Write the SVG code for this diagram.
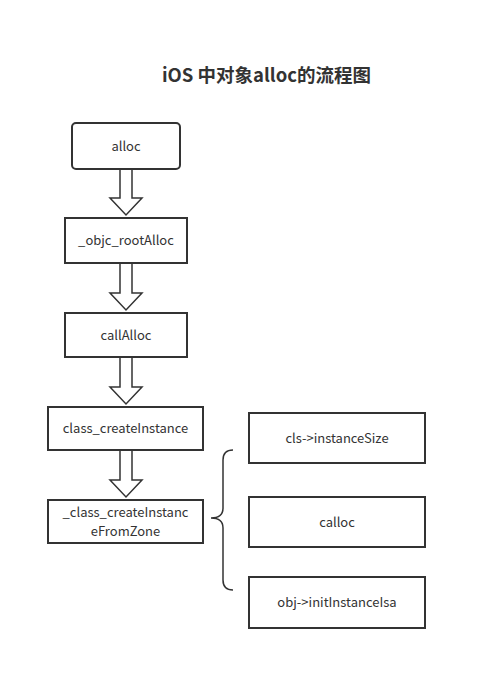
<svg xmlns="http://www.w3.org/2000/svg" width="486" height="690" viewBox="0 0 486 690">
<style>
.box{fill:#fff;stroke:#333;stroke-width:2}
.t{font-family:"Microsoft YaHei","Noto Sans CJK SC","Open Sans",sans-serif;font-size:13px;fill:#333;text-anchor:middle}
.arr{fill:#fff;stroke:#333;stroke-width:1.5;stroke-linejoin:miter}
.brace{fill:none;stroke:#333;stroke-width:1.5}
</style>
<rect width="486" height="690" fill="#fff"/>
<text x="266.5" y="82" style="font-family:'Noto Sans CJK SC','Open Sans',sans-serif;font-size:18.5px;font-weight:bold;fill:#333;text-anchor:middle">iOS 中对象alloc的流程图</text>
<g id="connectors">
<path class="arr" d="M120,169 L120,198 L110,198 L126,215 L142,198 L132,198 L132,169"/>
<path class="arr" d="M120,263 L120,293 L110,293 L126,310 L142,293 L132,293 L132,263"/>
<path class="arr" d="M120,357 L120,387 L110,387 L126,404 L142,387 L132,387 L132,357"/>
<path class="arr" d="M120,450 L120,480 L110,480 L126,497 L142,480 L132,480 L132,450"/>
<path class="brace" d="M233,450 Q223,450 223,460 L223,508 Q223,518 211,518 Q223,518 223,528 L223,580 Q223,590 233,590"/>
</g>
<g id="n-alloc"><rect class="box" x="72" y="123" width="108" height="46" rx="4"/><text class="t" x="126" y="151">alloc</text></g>
<g id="n-rootAlloc"><rect class="box" x="65" y="218" width="122" height="45"/><text class="t" x="126" y="245">_objc_rootAlloc</text></g>
<g id="n-callAlloc"><rect class="box" x="65" y="313" width="122" height="44"/><text class="t" x="126" y="340">callAlloc</text></g>
<g id="n-createInstance"><rect class="box" x="48" y="407" width="155" height="43"/><text class="t" x="125.5" y="433">class_createInstance</text></g>
<g id="n-fromZone"><rect class="box" x="48" y="500" width="155" height="43"/><text class="t" x="125.5" y="517">_class_createInstanc</text><text class="t" x="125.5" y="536">eFromZone</text></g>
<g id="n-instanceSize"><rect class="box" x="249" y="413" width="176" height="50"/><text class="t" x="337" y="443">cls-&gt;instanceSize</text></g>
<g id="n-calloc"><rect class="box" x="249" y="497" width="176" height="50"/><text class="t" x="337" y="527">calloc</text></g>
<g id="n-initIsa"><rect class="box" x="249" y="577" width="176" height="51"/><text class="t" x="337" y="607">obj-&gt;initInstanceIsa</text></g>
</svg>
